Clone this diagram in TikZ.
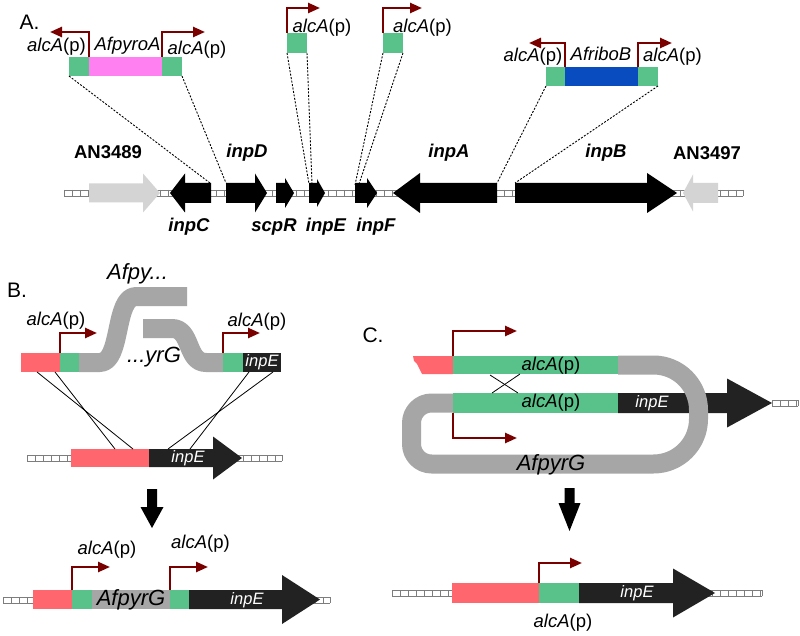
\documentclass[tikz,border=0pt]{standalone}
\usepackage{fontspec}
\setmainfont{Liberation Sans}
\usetikzlibrary{arrows.meta}
\definecolor{pgreen}{RGB}{88,194,138}
\definecolor{salmon}{RGB}{255,102,110}
\definecolor{magpink}{RGB}{255,128,240}
\definecolor{rblue}{RGB}{8,76,192}
\definecolor{bandgray}{RGB}{166,166,166}
\definecolor{lgray}{RGB}{212,212,212}
\definecolor{dkgene}{RGB}{34,34,34}
\definecolor{prom}{RGB}{122,0,0}
\definecolor{laddercol}{RGB}{125,125,125}
\newcommand\alcp{\textit{alcA}(p)}
\newcommand\garrow[7]{\fill[#1] (#2,{#5-#6}) -- (#3,{#5-#6}) -- (#3,{#5-#7}) -- (#4,#5) -- (#3,{#5+#7}) -- (#3,{#5+#6}) -- (#2,{#5+#6}) -- cycle;}
\newcommand\ladder[3]{%
  \fill[white] (#1,{#3-3}) rectangle (#2,{#3+3});
  \draw[laddercol, line width=0.8pt] (#1,{#3-3}) -- (#2,{#3-3}) (#1,{#3+3}) -- (#2,{#3+3}) (#2,{#3-3}) -- (#2,{#3+3});
  \pgfmathtruncatemacro\ladn{(#2-#1)/8}%
  \foreach \i in {0,...,\ladn} \draw[laddercol, line width=0.8pt] ({#1+8*\i},{#3-3}) -- ({#1+8*\i},{#3+3});
}
\tikzset{
  promoter/.style={draw=prom, line width=2.4pt, -{Triangle[length=12pt,width=10pt]}, line join=miter},
  link/.style={line width=0.9pt, dash pattern=on 2pt off 1.5pt},
  crossline/.style={line width=0.8pt},
  lbl/.style={font=\fontsize{18.5}{20}\selectfont, inner sep=0pt},
  genelbl/.style={font=\fontsize{18.5}{20}\selectfont\bfseries, inner sep=0pt},
  biglbl/.style={font=\fontsize{22}{24}\selectfont\itshape, inner sep=0pt},
  wlbl/.style={font=\fontsize{16.5}{18}\selectfont\itshape, text=white, inner sep=0pt},
  panel/.style={font=\fontsize{21}{24}\selectfont, inner sep=0pt},
  bandline/.style={draw=bandgray, line width=19pt, line cap=butt, line join=round},
}
\begin{document}
\begin{tikzpicture}[x=1pt,y=-1pt]
\useasboundingbox (0,0) rectangle (800,636);
\fill[white] (0,0) rectangle (800,636);

%% ---------------- Panel A ----------------
\node[panel] (labA) at (29.5,22.5) {A.};

% gene track
\ladder{64}{743}{193}
\garrow{lgray}{89}{143}{160}{193}{9.5}{19.5}
\garrow{black}{211}{185}{170}{193}{10}{19.5}
\garrow{black}{226}{255}{267}{193}{10}{19.5}
\garrow{black}{276}{285}{294}{193}{10}{15}
\garrow{black}{309}{317}{325}{193}{10}{14}
\garrow{black}{355}{367}{377}{193}{10}{15}
\garrow{black}{497}{420}{393}{193}{10}{20}
\garrow{black}{515}{647}{677}{193}{10}{20}
\garrow{lgray}{718}{693}{683}{193}{10}{18.5}

\node[genelbl] (gAN1) at (108,152.5) {AN3489};
\node[genelbl] (gD) at (247,153) {\itshape inpD};
\node[genelbl] (gC) at (189,227) {\itshape inpC};
\node[genelbl] (gS) at (274,227) {\itshape scpR};
\node[genelbl] (gE) at (326,227) {\itshape inpE};
\node[genelbl] (gF) at (376,227) {\itshape inpF};
\node[genelbl] (gA) at (449,153) {\itshape inpA};
\node[genelbl] (gB) at (606,153) {\itshape inpB};
\node[genelbl] (gAN2) at (707,153) {AN3497};

% construct 1 (AfpyroA)
\fill[pgreen] (69,57) rectangle (89,76);
\fill[magpink] (89,57) rectangle (162,76);
\fill[pgreen] (162,57) rectangle (182,76);
\draw[promoter] (89,57) -- (89,32) -- (50,32);
\draw[promoter] (162,57) -- (162,32) -- (205,32);
\node[lbl] (a1l) at (56.5,46.5) {\alcp};
\node[lbl] (a1m) at (127.5,45.5) {\textit{AfpyroA}};
\node[lbl] (a1r) at (197,50) {\alcp};

% construct 2, 3 (single promoters)
\fill[pgreen] (287,33) rectangle (307,53);
\draw[promoter] (287,33) -- (287,8) -- (320,8);
\node[lbl] (a2) at (322,27.5) {\alcp};
\fill[pgreen] (383,33) rectangle (403,53);
\draw[promoter] (383,33) -- (383,8) -- (422,8);
\node[lbl] (a3) at (422.5,27.5) {\alcp};

% construct 4 (AfriboB)
\fill[pgreen] (546,67) rectangle (565,86);
\fill[rblue] (565,67) rectangle (638,86);
\fill[pgreen] (638,67) rectangle (658,86);
\draw[promoter] (565,67) -- (565,43) -- (529,43);
\draw[promoter] (638,67) -- (638,43) -- (672,43);
\node[lbl] (a4l) at (533,56.5) {\alcp};
\node[lbl] (a4m) at (601,54) {\textit{AfriboB}};
\node[lbl] (a4r) at (672.5,56.5) {\alcp};

% dotted insertion lines
\coordinate (c1a) at (69,76);   \coordinate (t1a) at (210,183);
\coordinate (c1b) at (182,76);  \coordinate (t1b) at (226,183);
\coordinate (c2a) at (287,53);  \coordinate (t2a) at (309,184);
\coordinate (c2b) at (307,53);  \coordinate (t2b) at (312,184);
\coordinate (c3a) at (383,53);  \coordinate (t3a) at (355,185);
\coordinate (c3b) at (403,53);  \coordinate (t3b) at (359,184);
\coordinate (c4a) at (546,86);  \coordinate (t4a) at (497,183);
\coordinate (c4b) at (658,86);  \coordinate (t4b) at (515,183);
\draw[link] (c1a) -- (t1a); \draw[link] (c1b) -- (t1b);
\draw[link] (c2a) -- (t2a); \draw[link] (c2b) -- (t2b);
\draw[link] (c3a) -- (t3a); \draw[link] (c3b) -- (t3b);
\draw[link] (c4a) -- (t4a); \draw[link] (c4b) -- (t4b);

%% ---------------- Panel B ----------------
\node[panel] (labB) at (17,290) {B.};

% split marker
\draw[bandline] (79,362.5) -- (100,362.5) .. controls (122,362.5) and (114,296.5) .. (136,296.5) -- (187,296.5);
\draw[bandline] (143,328.5) -- (172,328.5) .. controls (192,328.5) and (186,362.5) .. (206,362.5) -- (223,362.5);
\fill[salmon] (21,353) rectangle (60,372);
\fill[pgreen] (60,353) rectangle (79,372);
\fill[pgreen] (223,353) rectangle (243,372);
\fill[dkgene] (243,353) rectangle (281,372);
\node[wlbl] (bE1) at (262,362) {inpE};
\draw[promoter] (60,353) -- (60,333) -- (97,333);
\draw[promoter] (223,353) -- (223,333) -- (260,333);
\node[lbl] (b1l) at (56,321) {\alcp};
\node[lbl] (b1r) at (257,321.5) {\alcp};
\node[biglbl] (bpy1) at (137.5,273.5) {Afpy...};
\node[biglbl] (bpy2) at (154,357) {...yrG};

% target locus
\ladder{27}{282}{458}
\fill[salmon] (71,449) rectangle (149,467);
\garrow{dkgene}{149}{213}{242}{458}{9}{21.5}
\node[wlbl] (bE2) at (188,458) {inpE};

% crossover lines
\coordinate (x1a) at (37,372);  \coordinate (y1a) at (133,449);
\coordinate (x1b) at (55,372);  \coordinate (y1b) at (115,449);
\coordinate (x2a) at (249,372); \coordinate (y2a) at (190,449);
\coordinate (x2b) at (273,372); \coordinate (y2b) at (168,449);
\draw[crossline] (x1a) -- (y1a); \draw[crossline] (x1b) -- (y1b);
\draw[crossline] (x2a) -- (y2a); \draw[crossline] (x2b) -- (y2b);

% down arrow B
\fill[black] (147,489) -- (157,489) -- (157,507) -- (163.5,507) -- (152,528) -- (140.5,507) -- (147,507) -- cycle;

% result B
\ladder{3}{330}{600}
\fill[salmon] (33,590) rectangle (72,609);
\fill[pgreen] (72,590) rectangle (92,609);
\fill[bandgray] (92,590) rectangle (170,609);
\fill[pgreen] (170,590) rectangle (189,609);
\garrow{dkgene}{189}{282}{320}{599.5}{9.5}{24.5}
\node[biglbl] (bpyr) at (131,600) {AfpyrG};
\node[wlbl] (bE3) at (247,600) {inpE};
\draw[promoter] (72,590) -- (72,567) -- (110,567);
\draw[promoter] (170,590) -- (170,567) -- (208,567);
\node[lbl] (b3l) at (107,550) {\alcp};
\node[lbl] (b3r) at (200.5,544) {\alcp};

%% ---------------- Panel C ----------------
\node[panel] (labC) at (373,335) {C.};

\ladder{772}{798}{403}
\garrow{dkgene}{618}{727}{772}{403}{10}{24.5}
\draw[bandline, rounded corners=45pt] (618,365) -- (698.5,365) -- (698.5,464) -- (560,464);
\draw[bandline, rounded corners=20pt] (560,464) -- (411.5,464) -- (411.5,403) -- (453,403);
\fill[salmon] (413,356) -- (453,356) -- (453,374) -- (422,374) -- (417,364) -- (414,361) -- cycle;
\fill[pgreen] (453,356) rectangle (618,374);
\fill[pgreen] (453,393) rectangle (618,413);
\node[lbl] (c1) at (551,366) {\alcp};
\node[lbl] (c2) at (551,403) {\alcp};
\node[wlbl] (cE1) at (652,403) {inpE};
\node[biglbl] (cpyr) at (551,465) {AfpyrG};
\coordinate (k1a) at (490,375); \coordinate (k1b) at (518,393);
\coordinate (k2a) at (492,393); \coordinate (k2b) at (520,374);
\draw[crossline] (k1a) -- (k1b); \draw[crossline] (k2a) -- (k2b);
\draw[promoter] (453,356) -- (453,331) -- (517,331);
\draw[promoter] (453,413) -- (453,438) -- (517,438);

% down arrow C
\fill[black] (564.5,488) -- (574.5,488) -- (574.5,503) -- (580.5,503) -- (569.5,531) -- (558.5,503) -- (564.5,503) -- cycle;

% result C
\ladder{392}{762}{593}
\fill[salmon] (452,583) rectangle (539,603);
\fill[pgreen] (539,583) rectangle (579,603);
\garrow{dkgene}{579}{673}{715}{593}{10}{24.5}
\node[wlbl] (cE2) at (637,593) {inpE};
\draw[promoter] (539,583) -- (539,563) -- (582,563);
\node[lbl] (c3) at (563,623) {\alcp};
\end{tikzpicture}
\end{document}
